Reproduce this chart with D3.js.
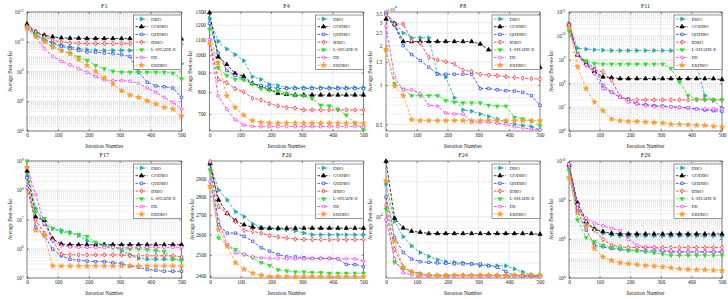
<!DOCTYPE html>
<html>
<head>
<meta charset="utf-8">
<script src="https://cdn.jsdelivr.net/npm/d3@7"></script>
<style>
  body { margin: 0; background: #fff; }
  svg { display: block; }
  text { font-family: "Liberation Serif", "Times New Roman", serif; fill: #222; }
</style>
</head>
<body>
<script>
// sampled iterations (markers) and series names
const iterations = [0, 28, 56, 83, 111, 139, 167, 194, 222, 250, 278, 306, 333, 361, 389, 417, 444, 472, 500];
const algorithms = ['DBO', 'GODBO', 'QHDBO', 'IDBO', 'L-SHADE-E', 'DE', 'ERDBO'];
const xTicks = [0, 100, 200, 300, 400, 500];

// rows follow the algorithms order
const f1Values = [
  [1.12e11, 3.55e10, 1.41e10, 8.32e9, 5.75e9, 4.47e9, 3.47e9, 2.95e9, 2.63e9, 2.63e9, 2.63e9, 2.63e9, 2.63e9, 2.63e9, 2.63e9, 2.63e9, 2.51e9, 2.4e9, 3.31e8],
  [1.55e11, 4.7e10, 2.75e10, 2.14e10, 1.82e10, 1.74e10, 1.74e10, 1.64e10, 1.64e10, 1.64e10, 1.64e10, 1.64e10, 1.64e10, 1.64e10, 1.64e10, 1.64e10, 1.64e10, 1.64e10, 1.55e10],
  [1.12e11, 2.75e10, 1.26e10, 8.32e9, 4.95e9, 3.47e9, 2.63e9, 2.04e9, 2.04e9, 1.74e9, 1.58e9, 1.35e9, 1.05e9, 9.0e7, 1.9e7, 1.07e7, 9.55e6, 7.8e6, 1.82e6],
  [1.12e11, 4.7e10, 2.14e10, 1.26e10, 9.77e9, 8.32e9, 7.94e9, 7.5e9, 7.5e9, 7.5e9, 7.5e9, 7.5e9, 7.5e9, 7.5e9, 7.5e9, 7.5e9, 7.5e9, 7.5e9, 6.76e9],
  [9.12e10, 3.55e10, 1.26e10, 4.47e9, 2.63e9, 1.75e9, 9.33e8, 5.57e8, 2.55e8, 1.51e8, 1.05e8, 9.0e7, 9.0e7, 9.0e7, 9.0e7, 9.0e7, 9.0e7, 7.7e7, 3.16e7],
  [9.12e10, 2.14e10, 3.47e9, 1.05e9, 4.79e8, 2.82e8, 1.51e8, 9.0e7, 4.57e7, 2.72e7, 2.45e7, 2.45e7, 2.21e7, 1.62e7, 7.8e6, 3.98e6, 1.82e6, 8.32e5, 2.95e5],
  [7.8e10, 2.34e10, 9.77e9, 4.47e9, 2.63e9, 1.58e9, 6.17e8, 2.55e8, 1.05e8, 3.72e7, 1.45e7, 5.13e6, 2.63e6, 1.82e6, 1.07e6, 6.46e5, 3.8e5, 2.95e5, 1.05e5]
];
const f4Values = [
  [1252, 1088, 1039, 1004, 968, 878, 864, 839, 833, 822, 822, 822, 822, 822, 822, 822, 822, 822, 822],
  [1295, 990, 946, 896, 881, 844, 827, 814, 794, 789, 786, 786, 786, 786, 786, 786, 786, 786, 786],
  [1214, 1014, 912, 885, 864, 844, 833, 827, 817, 817, 817, 817, 817, 817, 817, 817, 817, 817, 817],
  [1099, 864, 847, 817, 801, 771, 763, 746, 736, 729, 726, 718, 718, 718, 718, 718, 718, 718, 718],
  [1171, 927, 885, 864, 861, 839, 817, 810, 806, 794, 786, 782, 769, 739, 736, 721, 696, 663, 636],
  [1099, 782, 721, 677, 655, 650, 649, 649, 649, 649, 649, 649, 649, 649, 649, 649, 649, 649, 649],
  [1077, 955, 782, 729, 696, 673, 666, 663, 663, 663, 663, 663, 663, 663, 663, 663, 663, 663, 663]
];
const f8Values = [
  [35000, 30000, 25000, 23000, 23000, 23000, 12200, 11500, 8000, 6450, 6300, 6000, 5750, 5500, 5200, 5000, 4900, 4800, 4550],
  [32000, 29300, 21500, 21500, 21500, 21500, 21500, 21500, 21500, 21500, 21500, 20600, 18600, 18300, 18300, 18300, 17300, 15400, 13650],
  [36000, 28400, 20000, 17100, 15400, 13700, 12100, 12100, 12100, 12100, 12100, 9400, 9400, 9200, 9050, 9000, 8800, 8300, 7000],
  [34300, 29300, 29300, 21800, 21000, 16300, 15600, 15100, 14500, 13000, 12700, 12100, 11900, 11800, 11600, 11400, 11300, 11200, 11100],
  [18600, 10200, 9300, 8300, 8300, 8300, 8300, 7600, 7400, 7300, 7300, 7300, 7000, 6900, 6900, 5650, 5500, 5300, 4900],
  [28100, 11400, 9200, 9200, 8600, 7000, 6900, 6100, 6000, 6000, 5200, 5200, 5200, 5100, 5000, 4800, 4700, 4600, 4550],
  [18600, 9800, 8300, 5430, 5340, 5340, 5340, 5340, 5340, 5340, 5340, 5340, 5340, 5340, 5340, 5340, 5340, 5340, 5340]
];
const f11Values = [
  [3.31e10, 3.02e9, 2.75e9, 2.57e9, 2.48e9, 2.4e9, 2.4e9, 2.4e9, 2.4e9, 2.4e9, 2.4e9, 2.4e9, 2.4e9, 2.4e9, 2.34e9, 5.89e8, 3.09e7, 1.9e7, 9.3e6],
  [2.95e10, 1.58e9, 6.92e8, 3.09e8, 1.86e8, 1.74e8, 1.58e8, 1.58e8, 1.58e8, 1.58e8, 1.58e8, 1.58e8, 1.58e8, 1.58e8, 1.58e8, 1.58e8, 1.58e8, 1.58e8, 1.45e8],
  [2.69e10, 1.58e9, 8.13e8, 4.27e8, 8.32e7, 4.27e7, 2.63e7, 2.24e7, 1.38e7, 1.29e7, 1.17e7, 1.12e7, 1.05e7, 9.8e6, 9.3e6, 8.3e6, 7.6e6, 7.1e6, 6.6e6],
  [2.95e10, 1.58e9, 5.89e8, 3.63e8, 3.09e8, 1.35e8, 2.82e7, 2.04e7, 2.04e7, 2.04e7, 2.04e7, 2.04e7, 2.04e7, 2.04e7, 2.04e7, 2.04e7, 2.04e7, 2.04e7, 2.04e7],
  [1.55e10, 1.86e9, 8.71e8, 6.92e8, 6.46e8, 6.46e8, 6.46e8, 6.46e8, 6.46e8, 6.46e8, 6.46e8, 6.46e8, 4.27e8, 1.15e8, 3.09e7, 2.16e7, 2.1e7, 2.04e7, 2.04e7],
  [2.51e10, 1.58e9, 5.89e8, 2.57e8, 6.03e7, 4.27e7, 2.63e7, 1.62e7, 1.38e7, 1.17e7, 1.05e7, 1.05e7, 1.05e7, 9.8e6, 9.3e6, 8.3e6, 8.3e6, 8.3e6, 8.3e6],
  [2.14e10, 5.01e8, 6.03e7, 1.62e7, 7.1e6, 3.16e6, 2.69e6, 2.51e6, 2.51e6, 2.4e6, 2.29e6, 2.14e6, 1.91e6, 1.91e6, 1.82e6, 1.74e6, 1.7e6, 1.58e6, 1.48e6]
];
const f17Values = [
  [3.09e8, 2.4e7, 6.92e6, 4.9e6, 4.27e6, 3.72e6, 2.82e6, 1.91e6, 1.55e6, 1.38e6, 1.26e6, 8.5e5, 6.17e5, 4.7e5, 4.37e5, 4.37e5, 4.37e5, 4.37e5, 4.37e5],
  [4.57e8, 1.23e7, 9.5e6, 2.19e6, 1.45e6, 1.38e6, 1.38e6, 1.38e6, 1.38e6, 1.38e6, 1.38e6, 1.38e6, 1.38e6, 1.38e6, 1.38e6, 1.38e6, 1.38e6, 1.38e6, 1.38e6],
  [2.69e8, 5.5e6, 2.82e6, 9.77e5, 5.75e5, 4.37e5, 4.0e5, 3.8e5, 3.63e5, 3.63e5, 3.31e5, 3.16e5, 2.57e5, 2.34e5, 1.95e5, 1.82e5, 1.7e5, 1.7e5, 1.7e5],
  [1.2e8, 9.5e6, 3.39e6, 1.91e6, 6.46e5, 6.17e5, 6.17e5, 6.17e5, 6.17e5, 6.17e5, 6.17e5, 6.17e5, 5.75e5, 5.75e5, 5.75e5, 5.75e5, 5.75e5, 5.75e5, 5.25e5],
  [1.0e9, 1.86e7, 1.07e7, 4.9e6, 3.72e6, 3.39e6, 3.09e6, 2.63e6, 1.66e6, 1.26e6, 1.12e6, 9.77e5, 9.77e5, 9.77e5, 9.33e5, 8.5e5, 8.13e5, 4.37e5, 4.0e5],
  [6.03e8, 7.08e7, 7.24e6, 1.91e6, 1.26e6, 1.17e6, 1.12e6, 1.12e6, 1.12e6, 1.12e6, 1.12e6, 1.12e6, 1.12e6, 1.12e6, 1.12e6, 1.12e6, 1.12e6, 1.12e6, 1.12e6],
  [6.03e8, 4.27e6, 2.82e6, 2.57e5, 2.57e5, 2.57e5, 2.57e5, 2.57e5, 2.57e5, 2.57e5, 2.57e5, 2.57e5, 2.57e5, 2.57e5, 2.57e5, 2.57e5, 2.57e5, 2.57e5, 2.57e5]
];
const f20Values = [
  [2983, 2836, 2781, 2719, 2693, 2655, 2638, 2631, 2628, 2625, 2620, 2608, 2600, 2600, 2600, 2600, 2600, 2600, 2600],
  [2985, 2781, 2710, 2672, 2650, 2638, 2633, 2633, 2633, 2633, 2633, 2633, 2633, 2633, 2633, 2633, 2633, 2633, 2633],
  [2992, 2650, 2608, 2608, 2591, 2567, 2534, 2518, 2502, 2490, 2490, 2486, 2483, 2483, 2483, 2481, 2454, 2454, 2444],
  [2997, 2745, 2710, 2667, 2621, 2616, 2608, 2595, 2588, 2583, 2578, 2575, 2575, 2575, 2575, 2575, 2575, 2575, 2575],
  [2948, 2583, 2550, 2526, 2502, 2486, 2462, 2449, 2428, 2423, 2418, 2418, 2415, 2415, 2412, 2412, 2412, 2412, 2412],
  [2883, 2667, 2551, 2510, 2502, 2490, 2485, 2483, 2483, 2481, 2481, 2481, 2481, 2481, 2481, 2481, 2481, 2481, 2470],
  [2856, 2625, 2542, 2462, 2431, 2412, 2403, 2396, 2396, 2396, 2396, 2396, 2396, 2396, 2396, 2396, 2396, 2396, 2396]
];
const f24Values = [
  [19100, 9130, 6750, 5640, 4950, 4590, 4300, 4140, 4090, 4030, 3960, 3830, 3830, 3810, 3810, 3590, 3370, 3200, 3160],
  [29800, 9740, 8030, 7530, 7380, 7200, 7200, 7200, 7200, 7200, 7200, 7200, 7200, 7200, 7200, 7200, 7200, 7200, 7100],
  [14800, 6620, 4950, 4360, 4140, 4090, 4030, 4010, 3960, 3960, 3960, 3960, 3810, 3710, 3410, 3160, 3100, 3100, 3100],
  [12600, 5280, 3710, 3410, 3260, 3200, 3160, 3160, 3160, 3160, 3160, 3160, 3160, 3160, 3160, 3160, 3160, 3160, 3120],
  [11600, 4090, 3590, 3370, 3260, 3160, 3160, 3160, 3160, 3160, 3160, 3160, 3160, 3160, 3160, 3160, 3160, 3160, 3120],
  [9430, 4360, 3320, 3200, 3120, 3120, 3120, 3120, 3120, 3120, 3120, 3120, 3120, 3120, 3120, 3120, 3120, 3120, 3060],
  [20400, 6210, 3710, 3370, 3200, 3160, 3160, 3160, 3160, 3160, 3160, 3160, 3160, 3160, 3160, 3160, 3160, 3160, 3160]
];
const f29Values = [
  [6.92e9, 4.79e7, 5.25e6, 3.55e6, 1.95e6, 1.58e6, 1.41e6, 1.41e6, 1.41e6, 1.41e6, 1.41e6, 1.41e6, 1.41e6, 1.41e6, 1.41e6, 1.41e6, 1.41e6, 1.41e6, 1.41e6],
  [6.17e9, 7.08e7, 7.94e6, 3.16e6, 2.4e6, 1.95e6, 1.82e6, 1.82e6, 1.82e6, 1.82e6, 1.82e6, 1.82e6, 1.82e6, 1.82e6, 1.82e6, 1.82e6, 1.82e6, 1.82e6, 1.82e6],
  [4.68e9, 2.63e7, 2.88e6, 4.79e5, 3.98e5, 3.24e5, 2.88e5, 2.63e5, 2.63e5, 2.45e5, 2.45e5, 2.4e5, 2.19e5, 2.19e5, 2.19e5, 2.19e5, 2.19e5, 2.19e5, 2.19e5],
  [5.75e9, 3.89e7, 7.94e6, 2.88e6, 9.55e5, 4.79e5, 3.98e5, 3.63e5, 3.63e5, 3.63e5, 3.63e5, 3.63e5, 3.63e5, 3.63e5, 3.63e5, 3.63e5, 3.63e5, 3.63e5, 3.63e5],
  [3.16e9, 9.55e6, 1.2e6, 7.24e5, 4.79e5, 3.63e5, 3.24e5, 2.63e5, 2.45e5, 2.19e5, 1.95e5, 1.66e5, 1.45e5, 1.45e5, 1.45e5, 1.45e5, 1.45e5, 1.45e5, 1.45e5],
  [6.92e9, 5.75e7, 1.17e7, 6.46e6, 4.68e6, 3.55e6, 2.69e6, 9.55e5, 4.79e5, 3.98e5, 3.63e5, 2.63e5, 2.45e5, 2.19e5, 2.19e5, 2.19e5, 2.19e5, 2.19e5, 2.19e5],
  [1.41e9, 2.14e7, 4.37e6, 3.24e5, 1.2e5, 7.94e4, 6.03e4, 5.37e4, 4.79e4, 4.37e4, 4.07e4, 3.63e4, 3.31e4, 2.95e4, 2.75e4, 2.63e4, 2.63e4, 2.51e4, 2.4e4]
];

const f1Ticks = [1e4, 1e6, 1e8, 1e10, 1e12];
const f4Ticks = [700, 800, 900, 1000, 1100, 1200, 1300];
const f8Ticks = [5000, 10000, 15000, 20000, 25000, 30000, 35000];
const f11Ticks = [1e6, 1e7, 1e8, 1e9, 1e10, 1e11];
const f17Ticks = [1e5, 1e6, 1e7, 1e8, 1e9];
const f20Ticks = [2400, 2500, 2600, 2700, 2800, 2900];
const f24Ticks = [1e4];
const f29Ticks = [1e4, 1e6, 1e8, 1e10];

const colors = ['#26a9a9', '#000000', '#1c39f2', '#ff1c1c', '#2edf2e', '#ff21ff', '#ff9a2e'];
const markerFill = [true, true, false, false, true, false, true];

// layout of the 8 axes
const panels = [
  { title: 'F1', values: f1Values, ticks: f1Ticks, domain: [1e4, 1e12], fmt: 'pow', x: 27, y: 12, w: 154.5, h: 119, ylab: 15 },
  { title: 'F4', values: f4Values, ticks: f4Ticks, domain: [632, 1300], fmt: 'int', x: 209.5, y: 12, w: 154, h: 119, ylab: 18 },
  { title: 'F8', values: f8Values, ticks: f8Ticks, domain: [4450, 36200], fmt: 'e4', x: 386, y: 12, w: 154, h: 119, ylab: 14 },
  { title: 'F11', values: f11Values, ticks: f11Ticks, domain: [1e6, 1e11], fmt: 'pow', x: 569, y: 12, w: 153, h: 119, ylab: 16 },
  { title: 'F17', values: f17Values, ticks: f17Ticks, domain: [1e5, 1e9], fmt: 'pow', x: 27, y: 161, w: 154.5, h: 117, ylab: 15 },
  { title: 'F20', values: f20Values, ticks: f20Ticks, domain: [2390, 3000], fmt: 'int', x: 210, y: 161, w: 153.5, h: 117, ylab: 16 },
  { title: 'F24', values: f24Values, ticks: f24Ticks, domain: [3000, 30000], fmt: 'pow', x: 386, y: 161, w: 154, h: 117, ylab: 14 },
  { title: 'F29', values: f29Values, ticks: f29Ticks, domain: [1e4, 1e10], fmt: 'pow', x: 569, y: 161, w: 153, h: 117, ylab: 16 }
];

const svg = d3.select('body').append('svg').attr('width', 728).attr('height', 299);

function markerPath(i) {
  const shapes = [d3.symbolTriangle, d3.symbolTriangle, d3.symbolSquare, d3.symbolDiamond, d3.symbolTriangle, d3.symbolCircle, d3.symbolStar];
  const sizes = [7, 8, 6, 6, 7, 6.5, 9];
  return d3.symbol().type(shapes[i]).size(sizes[i])();
}
const markerRotate = [90, 0, 0, 0, 180, 0, 0];

function drawMarker(sel, i, cx, cy) {
  sel.append('path')
    .attr('d', markerPath(i))
    .attr('transform', `translate(${cx},${cy}) rotate(${markerRotate[i]})`)
    .attr('fill', markerFill[i] ? colors[i] : '#fff')
    .attr('stroke', colors[i])
    .attr('stroke-width', 0.7);
}

function drawPanel(p) {
  const g = svg.append('g').attr('transform', `translate(${p.x},${p.y})`);
  const x = d3.scaleLinear().domain([0, 500]).range([0, p.w]);
  const y = d3.scaleLog().domain(p.domain).range([p.h, 0]);

  // minor log grid
  const minor = [];
  const k0 = Math.floor(Math.log10(p.domain[0]));
  const k1 = Math.ceil(Math.log10(p.domain[1]));
  for (let k = k0; k <= k1; k++) {
    for (let m = 1; m < 10; m++) {
      const v = m * Math.pow(10, k);
      if (v > p.domain[0] && v < p.domain[1] && !p.ticks.includes(v)) minor.push(v);
    }
  }
  g.append('g').selectAll('line').data(minor).join('line')
    .attr('x1', 0).attr('x2', p.w)
    .attr('y1', d => y(d)).attr('y2', d => y(d))
    .attr('stroke', '#c4c4c4').attr('stroke-width', 0.5).attr('stroke-dasharray', '1,1');

  g.append('g').selectAll('line').data(p.ticks).join('line')
    .attr('x1', 0).attr('x2', p.w)
    .attr('y1', d => y(d)).attr('y2', d => y(d))
    .attr('stroke', '#d2d2d2').attr('stroke-width', 0.5);
  g.append('g').selectAll('line').data(xTicks.slice(1, -1)).join('line')
    .attr('x1', d => x(d)).attr('x2', d => x(d))
    .attr('y1', 0).attr('y2', p.h)
    .attr('stroke', '#d2d2d2').attr('stroke-width', 0.5);

  // axes
  g.append('g').attr('transform', `translate(0,${p.h})`)
    .call(d3.axisBottom(x).tickValues(xTicks).tickSize(-2).tickPadding(2.5));
  const yAxis = d3.axisLeft(y).tickValues(p.ticks).tickSize(-2).tickPadding(3.5);
  if (p.fmt === 'int') yAxis.tickFormat(d3.format('d'));
  if (p.fmt === 'e4') yAxis.tickFormat(d => d3.format('~g')(d / 1e4));
  const ya = g.append('g').call(yAxis);
  if (p.fmt === 'pow') {
    ya.selectAll('.tick text').text(null).each(function (d) {
      const t = d3.select(this);
      t.append('tspan').text('10');
      t.append('tspan').attr('dy', -2.6).attr('font-size', 3.6).text(Math.round(Math.log10(d)));
    });
  }
  g.append('g').attr('transform', `translate(${p.w},0)`)
    .call(d3.axisRight(y).tickValues(p.ticks).tickSize(-2).tickFormat(''));
  g.append('g').call(d3.axisTop(x).tickValues(xTicks).tickSize(-2).tickFormat(''));

  g.selectAll('.domain').remove();
  g.selectAll('.tick line').attr('stroke', '#333').attr('stroke-width', 0.5);
  g.selectAll('.tick text').attr('font-size', 5.3).attr('font-family', '"Liberation Serif", serif').attr('fill', '#222');

  g.append('rect').attr('width', p.w).attr('height', p.h)
    .attr('fill', 'none').attr('stroke', '#333').attr('stroke-width', 0.6);

  if (p.fmt === 'e4') {
    const t = g.append('text').attr('x', 1).attr('y', -1.5).attr('font-size', 5);
    t.append('tspan').text('\u00d710');
    t.append('tspan').attr('dy', -2.5).attr('font-size', 3.6).text('4');
  }

  // series
  const line = d3.line().x((d, i) => x(iterations[i])).y(d => y(d));
  p.values.forEach((vals, s) => {
    g.append('path').datum(vals)
      .attr('d', line)
      .attr('fill', 'none')
      .attr('stroke', colors[s])
      .attr('stroke-width', 0.8)
      .attr('stroke-dasharray', '3,1.6');
  });
  p.values.forEach((vals, s) => {
    const mg = g.append('g');
    vals.forEach((v, i) => drawMarker(mg, s, x(iterations[i]), y(v)));
  });

  // legend
  const lw = 48, lh = 54.5;
  const lg = g.append('g').attr('transform', `translate(${p.w - lw},${3})`);
  lg.append('rect').attr('width', lw).attr('height', lh)
    .attr('fill', '#fff').attr('stroke', '#333').attr('stroke-width', 0.5);
  algorithms.forEach((name, s) => {
    const cy = 4 + s * 7.7;
    lg.append('line').attr('x1', 2).attr('x2', 14).attr('y1', cy).attr('y2', cy)
      .attr('stroke', colors[s]).attr('stroke-width', 0.8).attr('stroke-dasharray', '2.5,1.3');
    drawMarker(lg, s, 8, cy);
    lg.append('text').attr('x', 17.5).attr('y', cy).attr('dy', '0.35em')
      .attr('font-size', 4.8).text(name);
  });

  // titles
  g.append('text').attr('x', p.w / 2).attr('y', -4.5).attr('text-anchor', 'middle')
    .attr('font-size', 6).text(p.title);
  g.append('text').attr('x', p.w / 2).attr('y', p.h + 16.5).attr('text-anchor', 'middle')
    .attr('font-size', 5.5).text('Iteration Number');
  g.append('text').attr('transform', `translate(${-p.ylab},${p.h / 2}) rotate(-90)`)
    .attr('text-anchor', 'middle').attr('font-size', 5.2).text('Average Best-so-far');
}

panels.forEach(drawPanel);
</script>
</body>
</html>
